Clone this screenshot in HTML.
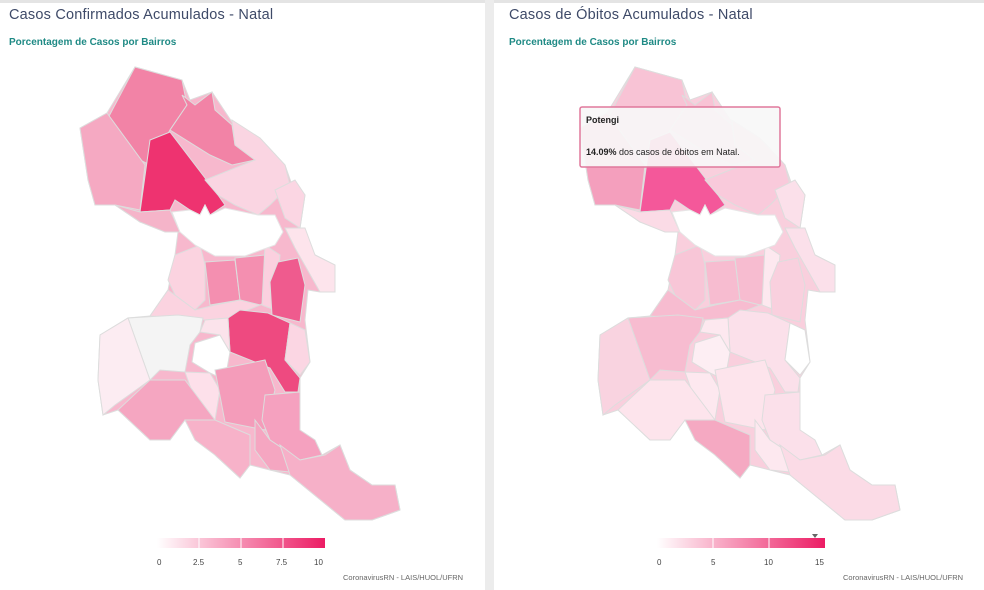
<!DOCTYPE html>
<html><head><meta charset="utf-8"><style>
body{margin:0;width:984px;height:590px;background:#fff;overflow:hidden;font-family:"Liberation Sans",sans-serif;position:relative}
.t{position:absolute;font-size:14.5px;color:#3e4a68;letter-spacing:0.2px}
.s{position:absolute;font-size:10px;font-weight:bold;color:#1f8a85}
.l{position:absolute;font-size:8px;color:#444}
.c{position:absolute;font-size:7.5px;color:#666}
</style></head><body>
<div style="position:absolute;left:0;top:0;width:984px;height:3px;background:#e4e4e4"></div>
<div style="position:absolute;left:485px;top:0;width:9px;height:590px;background:#ececec"></div>
<div class="t" style="left:9px;top:7px">Casos Confirmados Acumulados - Natal</div>
<div class="s" style="left:9px;top:37px">Porcentagem de Casos por Bairros</div>
<div class="t" style="left:509px;top:7px">Casos de Óbitos Acumulados - Natal</div>
<div class="s" style="left:509px;top:37px">Porcentagem de Casos por Bairros</div>
<svg width="984" height="590" style="position:absolute;left:0;top:0">
<defs>
<polygon id="base" points="80,128 107,113 135,67 182,80 190,100 212,92 232,122 260,138 285,165 292,185 305,195 300,228 315,255 335,265 335,292 320,292 308,290 305,320 310,362 300,378 300,392 300,430 322,455 340,445 350,470 372,485 395,485 400,510 372,520 345,520 290,475 270,470 250,465 240,478 215,455 185,420 170,440 150,440 118,410 103,415 98,380 100,335 128,318 150,316 168,290 175,255 178,232 140,222 115,205 95,205 88,180"/>
<polygon id="hole" points="172,212 190,210 200,215 205,205 210,215 225,208 258,215 275,215 283,232 275,245 245,256 215,256 195,245 180,232"/>
<g id="m">
<polygon id="pA" points="107,120 135,67 182,80 187,105 170,130 150,165 140,160"/>
<polygon id="pB" points="182,95 195,105 212,92 215,110 232,125 235,145 255,160 232,165 210,155 170,130 187,105"/>
<polygon id="pC" points="80,128 107,113 145,165 140,210 115,205 95,205 88,180"/>
<polygon id="pD" points="150,140 170,132 218,195 225,205 210,215 205,205 200,215 190,210 175,200 170,210 140,212"/>
<polygon id="pE" points="232,120 260,138 285,165 290,185 270,205 258,215 235,205 218,195 205,180 255,160 235,145"/>
<polygon id="pF" points="115,205 140,212 170,210 180,232 165,232 140,222"/>
<polygon id="pG1" points="275,190 295,180 305,195 300,228 285,218"/>
<polygon id="pG2" points="285,228 305,228 315,255 335,265 335,292 320,292 295,248"/>
<polygon id="pG" points="175,255 200,245 205,265 205,300 195,310 175,295 168,280"/>
<polygon id="pH" points="205,262 235,260 240,300 210,305"/>
<polygon id="pI" points="235,258 265,255 268,300 260,305 240,300"/>
<polygon id="pL" points="265,245 280,255 275,310 262,305"/>
<polygon id="pJ" points="278,262 298,258 305,285 300,322 272,315 270,282"/>
<polygon id="pR2" points="168,290 195,310 215,305 240,300 260,305 228,318 205,320 150,316"/>
<polygon id="pM" points="228,318 240,310 268,313 290,323 285,360 300,378 298,392 285,392 270,368 230,352"/>
<polygon id="pN" points="290,323 305,330 310,362 300,375 285,360"/>
<polygon id="pO" points="128,318 178,315 203,318 200,332 190,345 185,372 160,370 150,380"/>
<polygon id="pP" points="100,335 128,318 150,380 115,405 103,415 98,380"/>
<polygon id="pQ" points="195,343 220,335 230,352 225,380 210,373 192,362"/>
<polygon id="pR" points="205,320 228,318 230,352 220,335 200,332"/>
<polygon id="pS" points="185,372 210,373 220,390 215,420 195,400"/>
<polygon id="pT" points="215,370 265,360 275,390 265,430 225,422"/>
<polygon id="pU" points="150,380 185,380 215,420 185,420 170,440 150,440 118,410"/>
<polygon id="pV" points="185,420 215,420 250,435 250,465 240,478 215,455 195,440"/>
<polygon id="pW" points="265,395 300,392 300,430 315,440 322,455 300,460 270,440 262,420"/>
<polygon id="pX" points="255,420 270,440 300,460 290,472 270,470 255,450"/>
<polygon id="pY" points="280,445 300,460 325,455 340,445 350,470 372,485 395,485 400,510 372,520 345,520 290,475"/>
</g>
</defs>
<g stroke="#ddd" stroke-width="1">
<use href="#base" fill="#f7b8cd"/>
<use href="#pA" fill="#f283a6"/><use href="#pB" fill="#f283a6"/><use href="#pC" fill="#f5a9c2"/>
<use href="#pD" fill="#ee3370"/><use href="#pE" fill="#fad5e2"/><use href="#pF" fill="#f5b4c9"/>
<use href="#pG1" fill="#fbd6e3"/><use href="#pG2" fill="#fde4ec"/><use href="#pG" fill="#fbd3e0"/>
<use href="#pH" fill="#f48fb0"/><use href="#pI" fill="#f48fb0"/><use href="#pL" fill="#fbd0df"/>
<use href="#pJ" fill="#ef5b8e"/><use href="#pR2" fill="#fbd3e0"/><use href="#pM" fill="#ee4a80"/>
<use href="#pN" fill="#fbd6e3"/><use href="#pO" fill="#f4f4f4"/><use href="#pP" fill="#fcecf2"/>
<use href="#pQ" fill="#ffffff"/><use href="#pR" fill="#fbe3eb"/><use href="#pS" fill="#fde0ea"/>
<use href="#pT" fill="#f49cba"/><use href="#pU" fill="#f5a6c1"/><use href="#pV" fill="#f7b2c9"/>
<use href="#pW" fill="#f5a1bf"/><use href="#pX" fill="#f5a6c1"/><use href="#pY" fill="#f6b0c8"/>
<use href="#hole" fill="#fff" stroke="#e6e6e6"/>
</g>
<g stroke="#ddd" stroke-width="1" transform="translate(500,0)">
<use href="#base" fill="#f9cfdd"/>
<use href="#pA" fill="#f8c3d5"/><use href="#pB" fill="#f8c3d5"/><use href="#pC" fill="#f49fbd"/>
<use href="#pD" fill="#f4589a"/><use href="#pE" fill="#f9cadb"/><use href="#pF" fill="#fbdbe6"/>
<use href="#pG1" fill="#fbe0ea"/><use href="#pG2" fill="#fbe0ea"/><use href="#pG" fill="#f8c6d7"/>
<use href="#pH" fill="#f7bcd0"/><use href="#pI" fill="#f7bcd0"/><use href="#pL" fill="#fde8ef"/>
<use href="#pJ" fill="#f9d0de"/><use href="#pR2" fill="#f7bcd0"/><use href="#pM" fill="#fbe0ea"/>
<use href="#pN" fill="#ffffff"/><use href="#pO" fill="#f7bcd0"/><use href="#pP" fill="#f9d3e0"/>
<use href="#pQ" fill="#fdeef3"/><use href="#pR" fill="#fde8ef"/><use href="#pS" fill="#fde8ef"/>
<use href="#pT" fill="#fde4ec"/><use href="#pU" fill="#fde4ec"/><use href="#pV" fill="#f5a9c2"/>
<use href="#pW" fill="#fbe0ea"/><use href="#pX" fill="#fde8ef"/><use href="#pY" fill="#fbdbe6"/>
<use href="#hole" fill="#fff" stroke="#e6e6e6"/>
</g>
<defs><linearGradient id="g" x1="0" x2="1"><stop offset="0" stop-color="#fff"/><stop offset="1" stop-color="#ec1c64"/></linearGradient></defs>
<rect x="157" y="538" width="168" height="10" fill="url(#g)"/>
<g stroke="#fff"><line x1="199" y1="538" x2="199" y2="548"/><line x1="241" y1="538" x2="241" y2="548"/><line x1="283" y1="538" x2="283" y2="548"/></g>
<rect x="657" y="538" width="168" height="10" fill="url(#g)"/>
<g stroke="#fff"><line x1="713" y1="538" x2="713" y2="548"/><line x1="769" y1="538" x2="769" y2="548"/></g>
<polygon points="812,534 818,534 815,538" fill="#666"/>
<rect x="580" y="107" width="200" height="60" fill="#f7f7f7" fill-opacity="0.92" stroke="#e0789c" stroke-width="1.5" rx="2"/>
</svg>
<div style="position:absolute;left:586px;top:115px;font-size:9px;font-weight:bold;color:#222">Potengi</div>
<div style="position:absolute;left:586px;top:147px;font-size:9px;color:#222"><b>14.09%</b> dos casos de óbitos em Natal.</div>
<div class="l" style="left:157px;top:558px">0</div><div class="l" style="left:193px;top:558px">2.5</div><div class="l" style="left:238px;top:558px">5</div><div class="l" style="left:276px;top:558px">7.5</div><div class="l" style="left:314px;top:558px">10</div>
<div class="l" style="left:657px;top:558px">0</div><div class="l" style="left:711px;top:558px">5</div><div class="l" style="left:764px;top:558px">10</div><div class="l" style="left:815px;top:558px">15</div>
<div class="c" style="left:343px;top:573px">CoronavirusRN - LAIS/HUOL/UFRN</div>
<div class="c" style="left:843px;top:573px">CoronavirusRN - LAIS/HUOL/UFRN</div>
</body></html>
